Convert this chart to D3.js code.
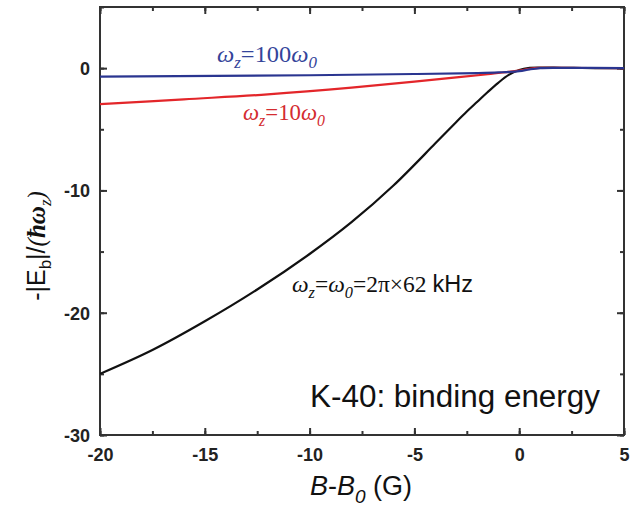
<!DOCTYPE html>
<html><head><meta charset="utf-8">
<script src="https://cdn.jsdelivr.net/npm/d3@7"></script>
<style>
html,body{margin:0;padding:0;background:#fff;}
svg{display:block;}
</style></head>
<body>
<svg id="chart" width="630" height="519"></svg>
<script>
// ---- data ----
const xTicks = [-20, -15, -10, -5, 0, 5];
const yTicks = [-30, -20, -10, 0];

const blackX = [-20, -17.5, -15, -12.5, -10, -8, -6, -4, -3, -2.5, -2, -1.5, -1, -0.5, 0, 0.5, 1, 2, 3, 4, 5];
const blackY = [-25.0, -23.05, -20.7, -18.1, -15.2, -12.6, -9.6, -6.15, -4.4, -3.55, -2.75, -1.95, -1.2, -0.55, -0.15, 0.02, 0.05, 0.03, 0.01, 0.0, 0.0];

const redX = [-20, -16, -12, -8, -5, -3, -1.5, -0.5, 0, 0.5, 1, 2, 5];
const redY = [-2.95, -2.55, -2.15, -1.6, -1.1, -0.75, -0.5, -0.3, -0.2, -0.05, 0.02, 0.02, 0.0];

const blueX = [-20, -10, -5, -2, -1, 0, 0.5, 1, 2, 5];
const blueY = [-0.7, -0.58, -0.48, -0.4, -0.35, -0.25, -0.1, 0.0, 0.02, 0.0];

// ---- layout ----
const svg = d3.select("#chart");
const L = 100, R = 624, T = 7, B = 435;
const x = d3.scaleLinear().domain([-20, 5]).range([L, R]);
const y = d3.scaleLinear().domain([-30, 5]).range([B, T]);

const axisColor = "#333";
const fmt = d => String(d); // plain hyphen-minus as in the reference

svg.append("rect").attr("x", L).attr("y", T).attr("width", R - L).attr("height", B - T)
  .attr("fill", "none").attr("stroke", axisColor).attr("stroke-width", 2);

const xMinor = d3.range(-20, 5.01, 2.5);
const yMinor = d3.range(-30, 5.01, 5);

function tickSet(g, axisGen) { g.call(axisGen); g.select(".domain").remove(); g.selectAll("line").attr("stroke", axisColor).attr("stroke-width", 2); }

// bottom
const gb = svg.append("g").attr("transform", `translate(0,${B})`);
tickSet(gb, d3.axisBottom(x).tickValues(xMinor).tickSize(-4).tickFormat(""));
const gb2 = svg.append("g").attr("transform", `translate(0,${B})`);
tickSet(gb2, d3.axisBottom(x).tickValues(xTicks).tickSize(-7).tickFormat(fmt));
gb2.selectAll("text").attr("font-family", "Liberation Sans, Arial, sans-serif").attr("font-weight", "bold")
  .attr("font-size", 18).attr("fill", "#222").attr("dy", "0.71em").attr("y", 13);
// top
const gt = svg.append("g").attr("transform", `translate(0,${T})`);
tickSet(gt, d3.axisTop(x).tickValues(xMinor).tickSize(-4).tickFormat(""));
const gt2 = svg.append("g").attr("transform", `translate(0,${T})`);
tickSet(gt2, d3.axisTop(x).tickValues(xTicks).tickSize(-7).tickFormat(""));
// left
const gl = svg.append("g").attr("transform", `translate(${L},0)`);
tickSet(gl, d3.axisLeft(y).tickValues(yMinor).tickSize(-4).tickFormat(""));
const gl2 = svg.append("g").attr("transform", `translate(${L},0)`);
tickSet(gl2, d3.axisLeft(y).tickValues(yTicks).tickSize(-7).tickFormat(fmt));
gl2.selectAll("text").attr("font-family", "Liberation Sans, Arial, sans-serif").attr("font-weight", "bold")
  .attr("font-size", 18).attr("fill", "#222").attr("x", -10).attr("dy", "0.36em");
// right
const gr = svg.append("g").attr("transform", `translate(${R},0)`);
tickSet(gr, d3.axisRight(y).tickValues(yMinor).tickSize(-4).tickFormat(""));
const gr2 = svg.append("g").attr("transform", `translate(${R},0)`);
tickSet(gr2, d3.axisRight(y).tickValues(yTicks).tickSize(-7).tickFormat(""));

// lines
const line = d3.line().x(d => x(d[0])).y(d => y(d[1])).curve(d3.curveCatmullRom.alpha(0.5));
svg.append("clipPath").attr("id", "clip").append("rect")
  .attr("x", L).attr("y", T).attr("width", R - L).attr("height", B - T);
const series = [
  { xs: blackX, ys: blackY, color: "#111111" },
  { xs: redX, ys: redY, color: "#e3262a" },
  { xs: blueX, ys: blueY, color: "#2a3590" }
];
series.forEach(s => {
  svg.append("path").datum(s.xs.map((v, i) => [v, s.ys[i]]))
    .attr("d", line).attr("fill", "none").attr("stroke", s.color)
    .attr("stroke-width", 2.2).attr("clip-path", "url(#clip)");
});

// labels
const serif = "Liberation Serif, Times New Roman, serif";
const sans = "Liberation Sans, Arial, sans-serif";

function omegaLabel(px, py, color, parts, len) {
  const t = svg.append("text").attr("x", px).attr("y", py).attr("fill", color)
    .attr("font-family", serif).attr("font-size", 23);
  parts.forEach(p => {
    const ts = t.append("tspan").text(p.t);
    if (p.i) ts.attr("font-style", "italic");
    if (p.fs) ts.attr("font-size", p.fs);
    if (p.dy) ts.attr("dy", p.dy);
    if (p.f) ts.attr("font-family", p.f);
  });
  if (len) t.attr("textLength", len).attr("lengthAdjust", "spacingAndGlyphs");
  return t;
}
omegaLabel(217, 62, "#34449a", [
  { t: "ω", i: 1 }, { t: "z", i: 1, fs: 16, dy: 6 }, { t: "=100", dy: -6 }, { t: "ω", i: 1 }, { t: "0", i: 1, fs: 16, dy: 6 }
], 100);
omegaLabel(243, 120, "#d42c30", [
  { t: "ω", i: 1 }, { t: "z", i: 1, fs: 16, dy: 6 }, { t: "=10", dy: -6 }, { t: "ω", i: 1 }, { t: "0", i: 1, fs: 16, dy: 6 }
], 82);
omegaLabel(292, 292, "#111", [
  { t: "ω", i: 1 }, { t: "z", i: 1, fs: 16, dy: 6 }, { t: "=", dy: -6 }, { t: "ω", i: 1 }, { t: "0", i: 1, fs: 16, dy: 6 },
  { t: "=2π×62 ", dy: -6 }, { t: "kHz", f: sans }
], 181);

svg.append("text").attr("x", 310).attr("y", 407).attr("font-family", sans).attr("font-size", 31)
  .attr("fill", "#111").attr("textLength", 290).attr("lengthAdjust", "spacingAndGlyphs")
  .text("K-40: binding energy");

// x title
const xt = svg.append("text").attr("x", 361).attr("y", 495).attr("text-anchor", "middle")
  .attr("font-family", sans).attr("font-size", 27).attr("fill", "#111");
xt.append("tspan").attr("font-style", "italic").text("B");
xt.append("tspan").text("-");
xt.append("tspan").attr("font-style", "italic").text("B");
xt.append("tspan").attr("font-style", "italic").attr("font-size", 19).attr("dy", 8).text("0");
xt.append("tspan").attr("dy", -8).text(" (G)");

// y title
const yt = svg.append("text").attr("transform", "translate(45,246) rotate(-90)").attr("text-anchor", "middle")
  .attr("font-family", sans).attr("font-size", 25).attr("fill", "#111");
yt.append("tspan").text("-|E");
yt.append("tspan").attr("font-size", 17).attr("dy", 6).text("b");
yt.append("tspan").attr("dy", -6).text("|/");
yt.append("tspan").attr("font-family", serif).attr("font-style", "italic").text("(");
yt.append("tspan").attr("font-family", serif).attr("font-style", "italic").attr("font-weight", "bold").text("ħω");
yt.append("tspan").attr("font-family", serif).attr("font-style", "italic").attr("font-size", 17).attr("dy", 6).text("z");
yt.append("tspan").attr("font-family", serif).attr("font-style", "italic").attr("dy", -6).text(")");
</script>
</body></html>
